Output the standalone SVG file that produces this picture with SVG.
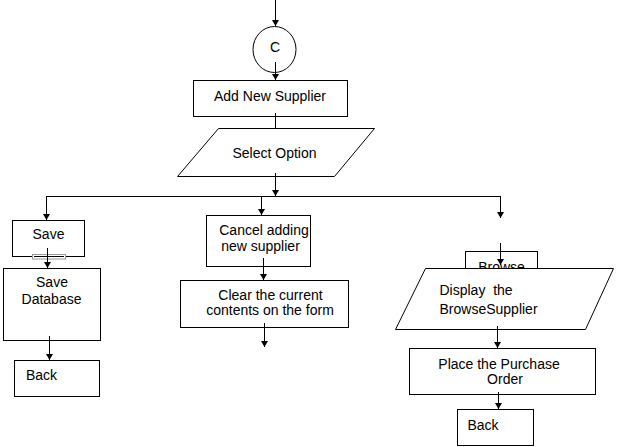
<svg xmlns="http://www.w3.org/2000/svg" width="618" height="447" viewBox="0 0 618 447">
<defs>
<marker id="arr" markerUnits="userSpaceOnUse" markerWidth="8" markerHeight="8" refX="6" refY="3.5" orient="auto">
<path d="M0,0 L6,3.5 L0,7 z" fill="#000"/>
</marker>
<style>
.box{fill:#fff;stroke:#000;stroke-width:1}
.t{font-family:"Liberation Sans",Arial,sans-serif;font-size:14px;fill:#000}
.c{text-anchor:middle}
.ln{fill:none;stroke:#000;stroke-width:1}
.ar{marker-end:url(#arr)}
</style>
</defs>
<rect width="618" height="447" fill="#fff"/>

<g id="connectors-top">
<line class="ln ar" x1="275.5" y1="0" x2="275.5" y2="26"/>
</g>

<g id="node-c">
<ellipse class="box" cx="274.5" cy="49.5" rx="21.5" ry="23"/>
<text class="t c" x="275" y="51.5" font-size="13">C</text>
</g>

<g id="node-add">
<rect class="box" x="193.5" y="80.5" width="154" height="36"/>
<text class="t c" x="270" y="100.5">Add New Supplier</text>
</g>

<g id="node-select">
<polygon class="box" points="218.5,128.5 374.5,128.5 334.5,176.5 177.5,176.5"/>
<text class="t c" x="274.5" y="157.5">Select Option</text>
</g>

<g id="node-save">
<rect class="box" x="12.5" y="220.5" width="72" height="36"/>
<text class="t c" x="48.5" y="239">Save</text>
<rect x="32.5" y="254.5" width="33" height="4.5" fill="#fff" stroke="#999" stroke-width="1"/>
<line x1="34" y1="256.5" x2="64" y2="256.5" stroke="#000" stroke-width="1"/>
</g>

<g id="node-savedb">
<rect class="box" x="3.5" y="268.5" width="97" height="72"/>
<text class="t c" x="52" y="286.5">Save</text>
<text class="t c" x="51.5" y="304">Database</text>
</g>

<g id="node-back1">
<rect class="box" x="14.5" y="360.5" width="85" height="36"/>
<text class="t" x="26" y="380">Back</text>
</g>

<g id="node-cancel">
<rect class="box" x="206.5" y="215.5" width="104" height="51"/>
<text class="t c" x="264" y="235">Cancel adding</text>
<text class="t c" x="260.5" y="250.5">new supplier</text>
</g>

<g id="node-clear">
<rect class="box" x="180.5" y="280.5" width="168" height="47"/>
<text class="t c" x="270.5" y="300">Clear the current</text>
<text class="t c" x="270" y="315">contents on the form</text>
</g>

<g id="node-browse">
<rect class="box" x="465.5" y="251.5" width="72" height="30"/>
<text class="t c" x="501.5" y="272">Browse</text>
</g>

<g id="connectors">
<line class="ln ar" x1="275.5" y1="62" x2="275.5" y2="80"/>
<line class="ln" x1="275.5" y1="113" x2="275.5" y2="128"/>
<line class="ln ar" x1="275.5" y1="173" x2="275.5" y2="196"/>
<line class="ln" x1="46" y1="196.5" x2="501" y2="196.5"/>
<line class="ln ar" x1="46.5" y1="196" x2="46.5" y2="220"/>
<line class="ln ar" x1="261.5" y1="196" x2="261.5" y2="215"/>
<line class="ln ar" x1="500.5" y1="196" x2="500.5" y2="218"/>
<line class="ln ar" x1="47.5" y1="248" x2="47.5" y2="268"/>
<line class="ln ar" x1="49.5" y1="336" x2="49.5" y2="360"/>
<line class="ln ar" x1="263.5" y1="258" x2="263.5" y2="280"/>
<line class="ln ar" x1="264.5" y1="323" x2="264.5" y2="347"/>
<line class="ln ar" x1="500.5" y1="243" x2="500.5" y2="265"/>
<line class="ln ar" x1="497.5" y1="326" x2="497.5" y2="348"/>
<line class="ln ar" x1="498.5" y1="394" x2="498.5" y2="409"/>
</g>

<g id="node-display">
<polygon class="box" points="425.5,268.5 613.5,268.5 585.5,329.5 395.5,329.5"/>
<text class="t" x="439.5" y="295" style="white-space:pre">Display  the</text>
<text class="t" x="439.5" y="313.5">BrowseSupplier</text>
</g>

<g id="node-place">
<rect class="box" x="409.5" y="348.5" width="186" height="46"/>
<text class="t c" x="499" y="368.5">Place the Purchase</text>
<text class="t c" x="505" y="384">Order</text>
</g>

<g id="node-back2">
<rect class="box" x="457.5" y="409.5" width="76" height="36"/>
<text class="t" x="467.5" y="430">Back</text>
</g>

<g id="connectors-over">
<line class="ln" x1="497.5" y1="326" x2="497.5" y2="330"/>
<line class="ln" x1="498.5" y1="392" x2="498.5" y2="395"/>
</g>
</svg>
